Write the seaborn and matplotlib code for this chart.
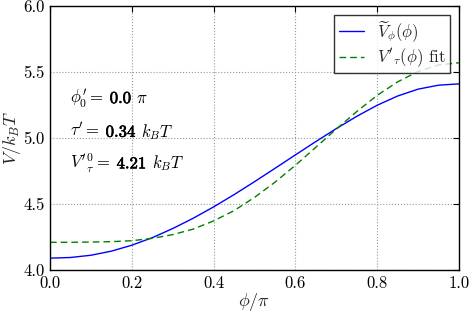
import numpy as np
import pandas as pd
import seaborn as sns
import matplotlib.pyplot as plt
import matplotlib.patheffects as pe
from matplotlib.offsetbox import TextArea, HPacker, AnnotationBbox

# values (phi in units of pi)
phi = [0.0, 0.05, 0.1, 0.15, 0.2, 0.25, 0.3, 0.35, 0.4, 0.45, 0.5,
       0.55, 0.6, 0.65, 0.7, 0.75, 0.8, 0.85, 0.9, 0.95, 1.0]
v_tilde = [4.09, 4.095, 4.112, 4.143, 4.188, 4.245, 4.314, 4.392, 4.478, 4.571, 4.669,
           4.77, 4.872, 4.973, 5.071, 5.164, 5.248, 5.318, 5.37, 5.40, 5.41]
v_fit = [4.21, 4.21, 4.212, 4.215, 4.222, 4.24, 4.268, 4.31, 4.372, 4.45, 4.55,
         4.665, 4.793, 4.93, 5.067, 5.20, 5.323, 5.425, 5.504, 5.553, 5.57]

x_ticks = [0.0, 0.2, 0.4, 0.6, 0.8, 1.0]
y_ticks = [4.0, 4.5, 5.0, 5.5, 6.0]

# fit parameters shown in the panel
params = [
    (r"$\phi^{\prime}_0 =$", "0.0", r"$\pi$", 5.30),
    (r"$\tau^{\prime} =$", "0.34", r"$k_BT$", 5.05),
    (r"$V^{\prime}{}^{0}_{\tau} =$", "4.21", r"$k_BT$", 4.81),
]

sns.set_style("white")
plt.rcParams['font.family'] = 'serif'
plt.rcParams['font.serif'] = ['cmr10', 'DejaVu Serif']
plt.rcParams['mathtext.fontset'] = 'cm'
plt.rcParams['axes.unicode_minus'] = False
plt.rcParams['axes.formatter.use_mathtext'] = True

df = pd.DataFrame({'phi': phi, 'tilde': v_tilde, 'fit': v_fit})

fig = plt.figure(figsize=(4.69, 3.14), dpi=100)
ax = fig.add_axes([0.1066, 0.14, 0.872, 0.841])

sns.lineplot(data=df, x='phi', y='tilde', ax=ax, color='#0000ff', lw=1.0,
             label=r'$\widetilde{V}_{\phi}(\phi)$')
sns.lineplot(data=df, x='phi', y='fit', ax=ax, color='#008000', lw=1.0,
             dashes=False, label=r"$V'{}_{\tau}(\phi)$ fit")
ax.lines[1].set_dashes((4.8, 2.9))

ax.set_xlim(0, 1)
ax.set_ylim(4.0, 6.0)
ax.set_xticks(x_ticks)
ax.set_yticks(y_ticks)
ax.set_xticklabels([f'{t:.1f}' for t in x_ticks])
ax.set_yticklabels([f'{t:.1f}' for t in y_ticks])
ax.tick_params(direction='in', length=4, width=0.8, top=True, right=True,
               labelsize=12, pad=4, colors='black')
ax.grid(True, linestyle=':', color='#999999', lw=0.8)
for s in ax.spines.values():
    s.set_color('black')
    s.set_linewidth(1.0)

ax.set_xlabel(r'$\phi/\pi$', fontsize=13, labelpad=0)
ax.set_ylabel(r'$V/k_BT$', fontsize=13, labelpad=0)

# label = bold number, built from pieces on a common baseline
bold = [pe.withStroke(linewidth=0.45, foreground='black')]
for lhs, num, unit, yv in params:
    parts = [
        TextArea(lhs, textprops=dict(fontsize=12, color='black')),
        TextArea(num, textprops=dict(fontsize=12, color='black', path_effects=bold)),
        TextArea(unit, textprops=dict(fontsize=12, color='black')),
    ]
    box = HPacker(children=parts, align='baseline', pad=0, sep=4)
    ab = AnnotationBbox(box, (0.05, yv), xycoords='data', frameon=False,
                        box_alignment=(0, 0.5), pad=0)
    ax.add_artist(ab)

leg = ax.legend(loc='upper right', fontsize=12, frameon=True, fancybox=False,
                handlelength=1.5, borderaxespad=0.55, borderpad=0.25,
                labelspacing=0.15)
leg.get_frame().set_edgecolor('black')
leg.get_frame().set_linewidth(1.0)

fig.savefig('out.png', dpi=100)
